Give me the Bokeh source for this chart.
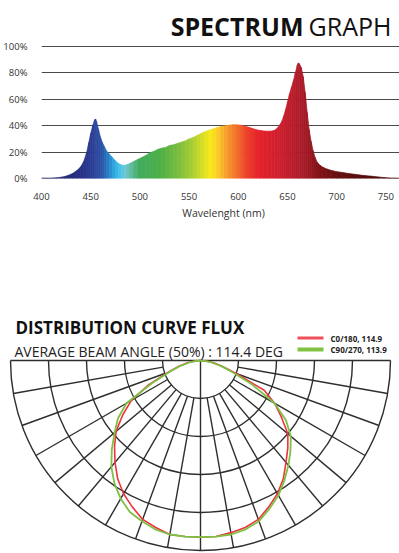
import numpy as np
from bokeh.plotting import figure
from bokeh.models import Label, FixedTicker, PrintfTickFormatter
from bokeh.embed import file_html
from bokeh.resources import INLINE

# ---------------- Spectrum data ----------------
wavelength_nm = [400, 405, 410, 415, 420, 424, 428, 432, 436, 440, 443, 446, 448, 450, 452, 454, 455,
                 456, 458, 460, 462, 464, 466, 469, 472, 475, 478, 481, 484, 487, 490, 494, 498, 502,
                 506, 510, 514, 518, 522, 526, 530, 534, 538, 542, 546, 550, 554, 558, 562, 566, 570,
                 574, 578, 582, 586, 590, 594, 598, 602, 606, 610, 614, 618, 622, 626, 630, 634, 637,
                 640, 642, 644, 646, 648, 650, 652, 654, 656, 658, 660, 661, 662, 664, 666, 668, 670,
                 672, 674, 676, 678, 680, 683, 686, 690, 695, 700, 706, 712, 718, 724, 730, 736, 742,
                 748, 754, 760, 770]
relative_intensity = [0.3, 0.3, 0.3, 0.5, 1.0, 1.6, 2.6, 4.0, 6.0, 9.0, 13, 20, 27, 34, 40, 44.5, 45,
                      43, 37, 31, 27, 24, 21, 18.5, 16, 13.5, 11.5, 10.3, 10.0, 10.5, 11.5, 13, 14.5, 16,
                      17.5, 19.5, 20.5, 22, 23, 23.5, 25, 25.5, 26.5, 27.5, 28.5, 30, 31, 32.5, 34, 35.5, 36.5,
                      37.5, 38.5, 39.3, 39.8, 40.3, 40.7, 40.7, 40.4, 39.8, 39, 38, 37, 36.4, 36, 35.8, 36, 36.5,
                      38.5, 40.5, 43, 47, 52, 58, 64, 69, 74, 80, 86, 87.5, 87, 84, 77, 65, 50,
                      37, 28, 21, 16, 12.5, 10, 8.5, 7.2, 6, 5.2, 4.5, 3.8, 3.2, 2.6, 2.1, 1.7, 1.2,
                      0.7, 0.4, 0.3, 0.2]
x_ticks = [400, 450, 500, 550, 600, 650, 700, 750]
y_ticks = [0, 20, 40, 60, 80, 100]

# spectral colour stops (style)
stop_nm = [400, 440, 452, 462, 470, 478, 485, 492, 500, 520, 540, 555, 566, 573, 580, 590, 600,
           610, 622, 640, 655, 668, 682, 700, 730, 770]
stop_rgb = [(32, 32, 96), (40, 48, 135), (43, 62, 150), (45, 85, 168), (40, 140, 210), (58, 190, 236),
            (110, 200, 215), (95, 188, 150), (65, 172, 95), (76, 175, 72), (125, 190, 62), (175, 208, 52),
            (225, 225, 35), (250, 233, 24), (250, 200, 40), (246, 150, 48), (242, 105, 42), (236, 60, 42),
            (230, 34, 43), (208, 31, 46), (188, 30, 45), (165, 27, 38), (130, 20, 25), (105, 15, 17),
            (85, 11, 12), (72, 9, 9)]

# ---------------- Distribution data ----------------
angles_deg = list(range(-90, 95, 5))
c0_180 = [0, 3, 7, 12, 18, 30, 42, 50, 58, 64, 70, 76, 81, 85, 89, 91, 93, 93, 93,
          93, 92, 91, 89, 85, 81, 76, 70, 65, 60, 52, 45, 37, 20, 12, 7, 3, 0]
c90_270 = [0, 2, 6, 11, 17, 28, 45, 53, 59, 66, 73, 79, 84, 88, 90, 92, 93, 93, 93,
           93, 93, 92, 90, 86, 82, 77, 72, 67, 62, 55, 45, 30, 18, 11, 6, 2, 0]
legend_labels = ["C0/180, 114.9", "C90/270, 113.9"]
ring_values = [20, 40, 60, 80, 100]
spoke_angles = list(range(-90, 91, 10))

RED = "#ee3340"
GREEN = "#7cc143"
GRID = "#2e2e2e"

# ---------------- Spectrum figure ----------------
FRAME_W, FRAME_H, LEFT, BOTTOM = 364, 178, 35, 42
PX_NM = 0.984
PX_PCT = 1.32
X_END = 400 + FRAME_W / PX_NM
Y_TOP = 100 + 46 / PX_PCT
p1 = figure(frame_width=FRAME_W, frame_height=FRAME_H, min_border_left=LEFT, min_border_right=0,
            min_border_top=0, min_border_bottom=BOTTOM, x_range=(400, X_END), y_range=(0, Y_TOP),
            output_backend="svg", toolbar_location=None)
p1.outline_line_color = None
p1.xgrid.visible = False
p1.ygrid.ticker = FixedTicker(ticks=y_ticks)
p1.ygrid.grid_line_color = "#4a4a4a"
p1.ygrid.grid_line_width = 1

wl = np.array(wavelength_nm, dtype=float)
vals = np.array(relative_intensity, dtype=float)
xs, ys, cols = [], [], []
for i in range(len(wl) - 1):
    xs.append([wl[i], wl[i], wl[i + 1], wl[i + 1]])
    ys.append([0, vals[i], vals[i + 1], 0])
    mid = 0.5 * (wl[i] + wl[i + 1])
    rgb = [int(round(np.interp(mid, stop_nm, [c[k] for c in stop_rgb]))) for k in range(3)]
    cols.append("#%02x%02x%02x" % tuple(rgb))
p1.patches(xs=xs, ys=ys, fill_color=cols, line_color=cols, line_width=0.7)

p1.xaxis.ticker = FixedTicker(ticks=x_ticks)
p1.yaxis.ticker = FixedTicker(ticks=y_ticks)
p1.yaxis.formatter = PrintfTickFormatter(format="%d%%")
for ax in (p1.xaxis[0], p1.yaxis[0]):
    ax.axis_line_color = None
    ax.major_tick_line_color = None
    ax.minor_tick_line_color = None
    ax.major_label_text_font = "Open Sans"
    ax.major_label_text_font_size = "9.5px"
    ax.major_label_text_color = "#333333"
p1.xaxis.major_label_standoff = 8
p1.yaxis.major_label_standoff = 8
p1.xaxis.axis_label = "Wavelenght (nm)"
p1.xaxis.axis_label_text_font = "Open Sans"
p1.xaxis.axis_label_text_font_style = "normal"
p1.xaxis.axis_label_text_font_size = "10.5px"
p1.xaxis.axis_label_text_color = "#333333"
p1.xaxis.axis_label_standoff = 3

title_y = (FRAME_H - 25) / PX_PCT
p1.add_layout(Label(x=400 + (385 - LEFT) / PX_NM, y=title_y, text="GRAPH", text_align="right",
                    text_baseline="alphabetic", text_font="Open Sans", text_font_size="25px",
                    text_color="#111111"))
p1.add_layout(Label(x=400 + (297 - LEFT) / PX_NM, y=title_y, text="SPECTRUM", text_align="right",
                    text_baseline="alphabetic", text_font="Open Sans", text_font_size="25px",
                    text_font_style="bold", text_color="#111111"))

# ---------------- Distribution figure ----------------
H1 = FRAME_H + BOTTOM
S = 1.9  # px per unit
CX, CY = 200, 358  # page position of the polar origin
H2 = 551 - H1
p2 = figure(frame_width=399, frame_height=H2, x_range=(-CX / S, (399 - CX) / S),
            y_range=((CY - 551) / S, (CY - H1) / S),
            min_border=0, x_axis_location=None, y_axis_location=None,
            output_backend="svg", toolbar_location=None)
p2.grid.visible = False
p2.outline_line_color = None

p2.arc(x=[0] * len(ring_values), y=[0] * len(ring_values), radius=ring_values,
       start_angle=np.pi, end_angle=2 * np.pi, line_color=GRID, line_width=1.4)
x0s, y0s, x1s, y1s = [], [], [], []
r_in, r_out = ring_values[0], ring_values[-1]
for a in spoke_angles:
    if abs(a) == 90:
        continue
    t = np.radians(a)
    start = 0 if a == 0 else r_in
    x0s.append(start * np.sin(t)); y0s.append(-start * np.cos(t))
    x1s.append(r_out * np.sin(t)); y1s.append(-r_out * np.cos(t))
x0s.append(-r_out); y0s.append(0); x1s.append(r_out); y1s.append(0)
p2.segment(x0=x0s, y0=y0s, x1=x1s, y1=y1s, line_color=GRID, line_width=1.4)

th = np.radians(np.array(angles_deg, dtype=float))
for series, col, w in ((c0_180, RED, 1.6), (c90_270, GREEN, 1.8)):
    r = np.array(series, dtype=float)
    p2.line(x=r * np.sin(th), y=-r * np.cos(th), line_color=col, line_width=w)


def ref_xy(xp, yp):
    return (xp - CX) / S, (CY - yp) / S


# legend (swatches + labels)
for lab, col, w, yp in ((legend_labels[0], "#f0505a", 3, 335.5), (legend_labels[1], "#80c342", 4, 347)):
    ax0, ay = ref_xy(297, yp)
    ax1, _ = ref_xy(323, yp)
    p2.segment(x0=[ax0], y0=[ay], x1=[ax1], y1=[ay], line_color=col, line_width=w)
    lx, ly = ref_xy(330, yp)
    p2.add_layout(Label(x=lx, y=ly, text=lab, text_baseline="middle", text_font="Open Sans",
                        text_font_size="8px", text_font_style="bold", text_color="#222222"))

tx, ty = ref_xy(15, 325)
p2.add_layout(Label(x=tx, y=ty, text="DISTRIBUTION CURVE FLUX", text_baseline="alphabetic",
                    text_font="Open Sans", text_font_size="17px", text_font_style="bold",
                    text_color="#111111"))
sx, sy = ref_xy(14, 348.5)
p2.add_layout(Label(x=sx, y=sy, text="AVERAGE BEAM ANGLE  (50%) : 114.4 DEG", text_baseline="alphabetic",
                    text_font="Open Sans", text_font_size="14px", text_color="#222222"))

open("out.html", "w").write(file_html([p1, p2], INLINE))
